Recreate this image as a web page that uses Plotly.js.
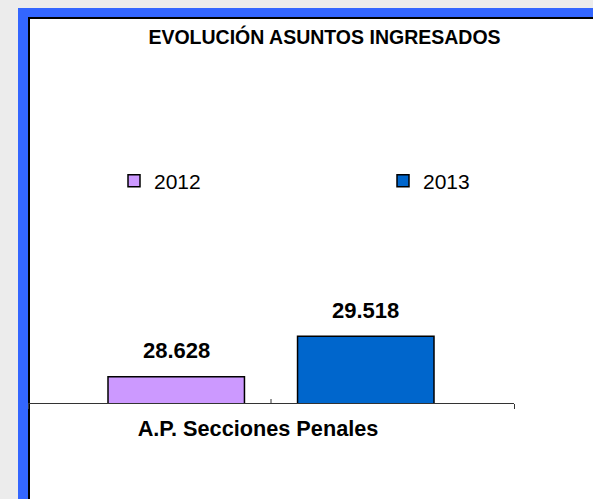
<!DOCTYPE html>
<html>
<head>
<meta charset="utf-8">
<script src="https://cdn.plot.ly/plotly-3.0.1.min.js"></script>
<style>
  html, body { margin:0; padding:0; width:593px; height:499px; overflow:hidden; background:#ececec; }
  #blue { position:absolute; left:18px; top:8px; width:620px; height:520px; background:#3366ff; }
  #inner { position:absolute; left:28px; top:17px; width:620px; height:520px; background:#ffffff; border-left:2px solid #000; border-top:2px solid #000; }
  #chart { position:absolute; left:0; top:0; width:593px; height:499px; }
</style>
</head>
<body>
<div id="blue"></div>
<div id="inner"></div>
<div id="chart"></div>
<script>
// ---- data ----
const categories = ["A.P. Secciones Penales"];
const seriesNames = ["2012", "2013"];
const values2012 = [28628];
const values2013 = [29518];
const seriesColors = ["#CC99FF", "#0066CC"];

function fmt(v) { return String(v).replace(/\B(?=(\d{3})+(?!\d))/g, "."); }

const W = 593, H = 499;
const margin = { l: 28, r: 79, t: 41, b: 96 };
const plotW = W - margin.l - margin.r;
const bargap = 0.22, bargroupgap = 0.28;
const halfSlot = plotW * (1 - bargap) / 4;

const font = "Liberation Sans, Arial, sans-serif";
const seriesValues = [values2012, values2013];

const traces = seriesNames.map((name, i) => ({
  type: "bar",
  name: name,
  x: categories,
  y: seriesValues[i],
  marker: { color: seriesColors[i], line: { color: "#000", width: 1.5 } },
  hoverinfo: "skip",
  legend: i === 0 ? "legend" : "legend2"
}));

const annotations = [];
seriesValues.forEach((vals, i) => {
  vals.forEach((v, j) => {
    annotations.push({
      x: categories[j], y: v, xref: "x", yref: "y",
      text: fmt(v), showarrow: false,
      xshift: (i === 0 ? -1 : 1) * halfSlot,
      yshift: 26, yanchor: "middle",
      font: { family: font, size: 22, color: "#000", weight: "bold" }
    });
  });
});

const legendCommon = {
  orientation: "h", xanchor: "left", yanchor: "middle",
  bgcolor: "rgba(0,0,0,0)", borderwidth: 0,
  font: { family: font, size: 21, color: "#000" }
};

const layout = {
  width: W, height: H,
  margin: margin,
  paper_bgcolor: "rgba(0,0,0,0)",
  plot_bgcolor: "rgba(0,0,0,0)",
  barmode: "group", bargap: bargap, bargroupgap: bargroupgap,
  showlegend: true,
  title: {
    text: "EVOLUCIÓN ASUNTOS INGRESADOS",
    xref: "container", yref: "container",
    x: 324.5 / W, y: 1 - 37 / H, xanchor: "center", yanchor: "middle",
    font: { family: font, size: 19.5, color: "#000", weight: "bold" }
  },
  xaxis: {
    type: "category",
    showline: true, linecolor: "#333", linewidth: 1,
    ticks: "outside", tickson: "boundaries", ticklen: 5, tickcolor: "#333",
    showgrid: false, zeroline: false,
    tickfont: { family: font, size: 21.7, color: "#000", weight: "bold" },
    ticklabelshift: -13,
    ticklabelstandoff: 6,
    fixedrange: true
  },
  yaxis: {
    visible: false,
    range: [28050, 36000],
    fixedrange: true
  },
  legend: Object.assign({}, legendCommon, { x: (114 - margin.l) / plotW, y: (403 - 181) / 362 }),
  legend2: Object.assign({}, legendCommon, { x: (383 - margin.l) / plotW, y: (403 - 181) / 362 }),
  annotations: annotations,
  shapes: [{
    type: "line", xref: "x", yref: "paper",
    x0: categories[0], x1: categories[0], y0: 0, y1: 4 / 362,
    line: { color: "#333", width: 1 }
  }]
};

Plotly.newPlot("chart", traces, layout, { staticPlot: true, displayModeBar: false });
</script>
</body>
</html>
